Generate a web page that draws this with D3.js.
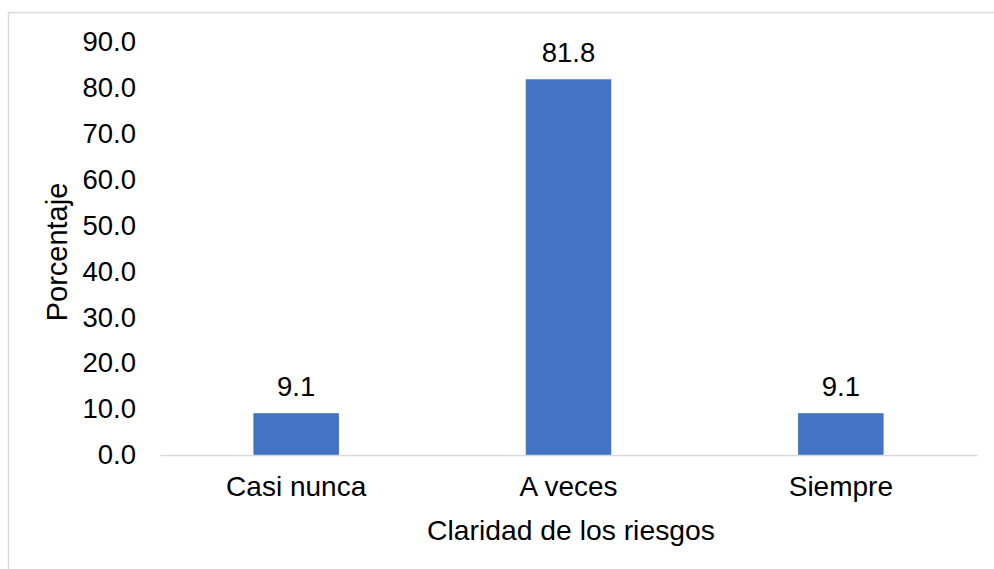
<!DOCTYPE html>
<html><head><meta charset="utf-8">
<script src="https://cdn.jsdelivr.net/npm/d3@7"></script>
<style>body{margin:0;background:#fff}svg{display:block}text{font-family:"Liberation Sans",Arial,sans-serif;fill:#000}</style>
</head><body><svg id="c" width="994" height="569"></svg>
<script>
const categories = ["Casi nunca", "A veces", "Siempre"];
const values = [9.1, 81.8, 9.1];
const yTicks = [0, 10, 20, 30, 40, 50, 60, 70, 80, 90];
const xTitle = "Claridad de los riesgos";
const yTitle = "Porcentaje";

(function () {
const svg = d3.select("#c");
const fs = 27.5;
svg.append("rect").attr("x", 8.5).attr("y", 12.5).attr("width", 1000).attr("height", 600)
  .attr("fill", "none").attr("stroke", "#d9d9d9").attr("stroke-width", 1.5);

const pl = 160, pr = 977, pt = 41.6, pb = 455;
const x = d3.scaleBand().domain(categories).range([pl, pr]).paddingInner(0.686).paddingOuter(0.343);
const y = d3.scaleLinear().domain([0, 90]).range([pb, pt]);

const ya = svg.append("g").attr("transform", `translate(${pl},0)`)
  .call(d3.axisLeft(y).tickValues(yTicks).tickFormat(d3.format(".1f")).tickSize(0).tickPadding(24));
ya.select(".domain").remove();
ya.selectAll("text").attr("font-size", fs).attr("font-family", "Liberation Sans, Arial, sans-serif").attr("fill", "#000");

svg.append("g").selectAll("rect").data(values).join("rect")
  .attr("x", (d, i) => x(categories[i])).attr("width", x.bandwidth())
  .attr("y", d => y(d)).attr("height", d => pb - y(d)).attr("fill", "#4472c4");

const xa = svg.append("g").attr("transform", `translate(0,${pb})`)
  .call(d3.axisBottom(x).tickSize(0).tickPadding(21));
xa.select(".domain").attr("stroke", "#d9d9d9").attr("stroke-width", 1.5);
xa.selectAll("text").attr("font-size", 28).attr("font-family", "Liberation Sans, Arial, sans-serif").attr("fill", "#000");

svg.append("g").selectAll("text").data(values).join("text")
  .attr("x", (d, i) => x(categories[i]) + x.bandwidth() / 2)
  .attr("y", d => y(d) - 17).attr("text-anchor", "middle").attr("font-size", fs)
  .text(d => d3.format(".1f")(d));

svg.append("text").attr("x", 571).attr("y", 540).attr("text-anchor", "middle")
  .attr("font-size", 28.3).text(xTitle);
svg.append("text").attr("transform", "translate(67,252) rotate(-90)").attr("text-anchor", "middle")
  .attr("font-size", 29).text(yTitle);
})();
</script></body></html>
